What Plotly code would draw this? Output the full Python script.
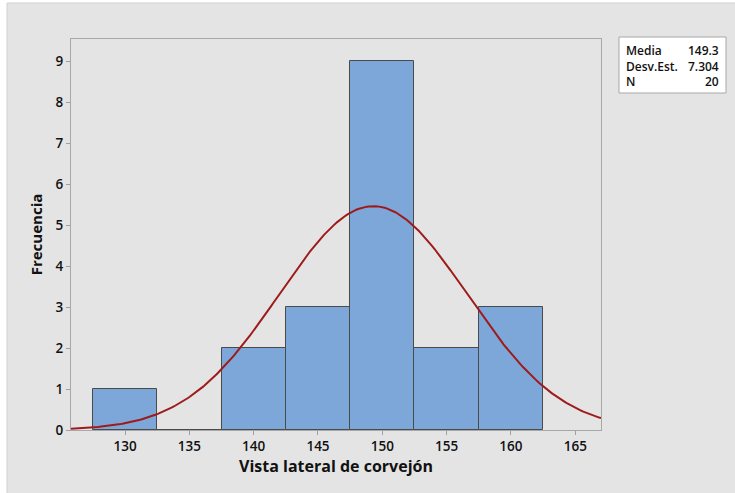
import numpy as np
import plotly.graph_objects as go

# Histogram bins (midpoints, width 5) and counts
bin_centers = [130, 135, 140, 145, 150, 155, 160]
counts = [1, 0, 2, 3, 9, 2, 3]
bin_width = 5

# Summary statistics
media = 149.3
desv_est = 7.304
n_obs = 20

x_ticks = [130, 135, 140, 145, 150, 155, 160, 165]
y_ticks = [0, 1, 2, 3, 4, 5, 6, 7, 8, 9]

W, H = 735, 493
ML, MR, MT, MB = 71, 134, 39, 63
x_range = [125.8, 167.0]
y_range = [0, 9.54]

# Fitted normal curve, scaled to the frequency axis
xs = np.linspace(x_range[0], x_range[1], 300)
ys = n_obs * bin_width / (desv_est * np.sqrt(2 * np.pi)) * np.exp(-0.5 * ((xs - media) / desv_est) ** 2)

fig = go.Figure()
fig.add_trace(go.Bar(
    x=bin_centers, y=counts, width=[bin_width] * len(bin_centers),
    marker=dict(color="#7DA7D9", line=dict(color="#4A4A4A", width=1)),
    hoverinfo="x+y",
))
fig.add_trace(go.Scatter(
    x=xs, y=ys, mode="lines",
    line=dict(color="#9E1B1B", width=2), hoverinfo="skip",
))

font_family = "Open Sans, Noto Sans, DejaVu Sans, sans-serif"
tick_font = dict(size=13.5, color="#111111", weight=600)

fig.update_layout(
    width=W, height=H,
    margin=dict(l=ML, r=MR, t=MT, b=MB),
    paper_bgcolor="#FFFFFF",
    plot_bgcolor="#FFFFFF",
    showlegend=False,
    bargap=0,
    font=dict(family=font_family, color="#111111"),
    xaxis=dict(
        range=x_range, tickvals=x_ticks, ticks="outside", ticklen=4,
        tickcolor="#A0A0A0", showgrid=False, zeroline=False,
        showline=True, linecolor="#A8A8A8", linewidth=1, mirror=True,
        tickfont=tick_font,
        title=dict(text="Vista lateral de corvejón", font=dict(size=16, weight=700), standoff=6),
    ),
    yaxis=dict(
        range=y_range, tickvals=y_ticks, ticks="outside", ticklen=4,
        tickcolor="#A0A0A0", showgrid=False, zeroline=False,
        showline=True, linecolor="#A8A8A8", linewidth=1, mirror=True,
        tickfont=tick_font,
        title=dict(text="Frecuencia", font=dict(size=15, weight=700), standoff=9),
    ),
)

# Gray panel behind the chart
def px_x(px):
    return (px - ML) / (W - ML - MR)

def px_y(py):
    return 1 - (py - MT) / (H - MT - MB)

fig.add_shape(type="rect", xref="paper", yref="paper", layer="below",
              x0=px_x(7), x1=px_x(W + 2), y0=px_y(H + 2), y1=px_y(3),
              fillcolor="#E4E4E4", line=dict(color="#D0D0D0", width=1))

# Statistics box
fig.add_shape(type="rect", xref="paper", yref="paper",
              x0=px_x(619), x1=px_x(726), y0=px_y(93), y1=px_y(37),
              fillcolor="#FFFFFF", line=dict(color="#A8A8A8", width=1))

stats_labels = ["Media", "Desv.Est.", "N"]
stats_values = [f"{media}", f"{desv_est}", f"{n_obs}"]
stats_font = dict(size=12, color="#111111", weight=600)
fig.add_annotation(xref="paper", yref="paper", x=px_x(624), y=px_y(65.5),
                   text="<br>".join(stats_labels), showarrow=False,
                   xanchor="left", yanchor="middle", align="left", font=stats_font)
fig.add_annotation(xref="paper", yref="paper", x=px_x(721), y=px_y(65.5),
                   text="<br>".join(stats_values), showarrow=False,
                   xanchor="right", yanchor="middle", align="right", font=stats_font)

fig.write_html("out.html")
